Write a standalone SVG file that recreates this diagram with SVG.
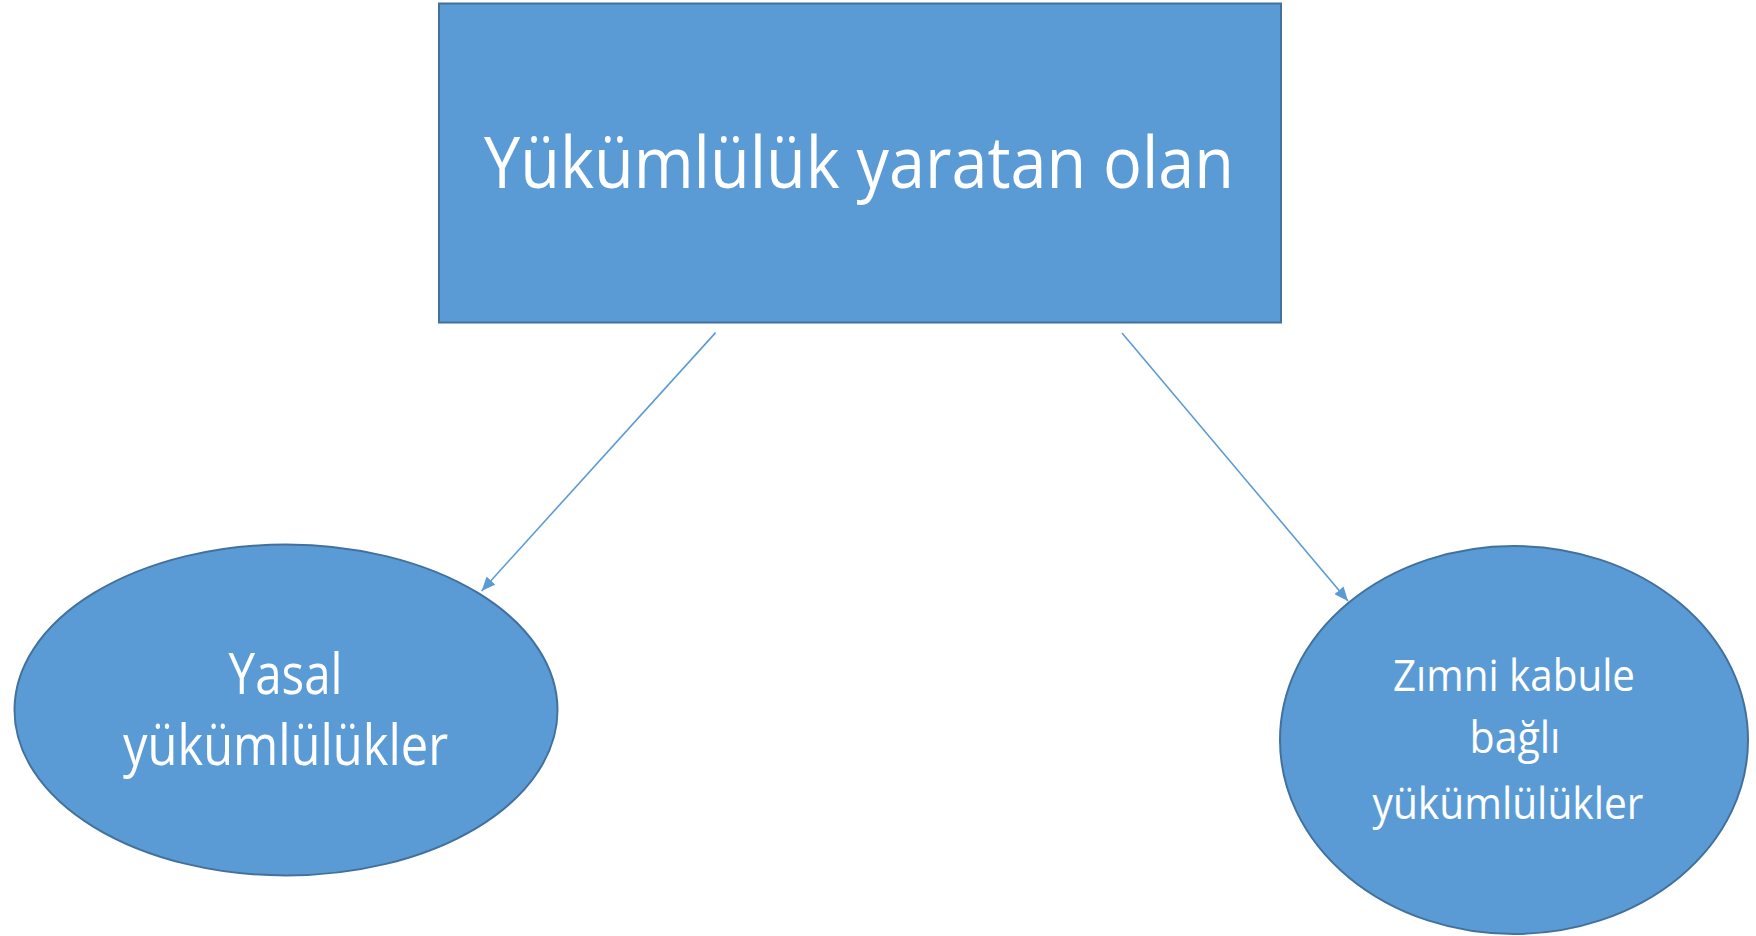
<svg xmlns="http://www.w3.org/2000/svg" width="1756" height="936" viewBox="0 0 1756 936">
<style>
.shape{fill:#5B9BD5;stroke:#41719C;stroke-width:2}
.t{fill:#FFFFFF;font-family:"Open Sans","Liberation Sans",sans-serif;text-anchor:middle}
.conn{stroke:#5B9BD5;stroke-width:1.6;fill:none}
</style>
<defs>
<marker id="arr" markerWidth="14" markerHeight="12" refX="14" refY="6" orient="auto" markerUnits="userSpaceOnUse" viewBox="0 0 14 12">
<path d="M0,0 L14,6 L0,12 Z" fill="#5B9BD5"/>
</marker>
</defs>
<rect width="1756" height="936" fill="#FFFFFF"/>
<g id="connectors">
<line class="conn" x1="715.6" y1="332.6" x2="481.6" y2="591" marker-end="url(#arr)"/>
<line class="conn" x1="1122" y1="333" x2="1348" y2="601" marker-end="url(#arr)"/>
</g>
<g id="top">
<rect class="shape" x="439" y="3.5" width="842" height="319"/>
<text class="t" x="859" y="188" font-size="72" textLength="750" lengthAdjust="spacingAndGlyphs">Yükümlülük yaratan olan</text>
</g>
<g id="left">
<ellipse class="shape" cx="286" cy="710" rx="271.5" ry="165.5"/>
<text class="t" x="285.6" y="694" font-size="57" textLength="114" lengthAdjust="spacingAndGlyphs">Yasal</text>
<text class="t" x="285.6" y="765" font-size="57" textLength="325" lengthAdjust="spacingAndGlyphs">yükümlülükler</text>
</g>
<g id="right">
<ellipse class="shape" cx="1514" cy="740" rx="234" ry="194"/>
<text class="t" x="1514" y="691" font-size="44" textLength="242" lengthAdjust="spacingAndGlyphs">Zımni kabule</text>
<text class="t" x="1515" y="753" font-size="44" textLength="91" lengthAdjust="spacingAndGlyphs">bağlı</text>
<text class="t" x="1508" y="819" font-size="44" textLength="271" lengthAdjust="spacingAndGlyphs">yükümlülükler</text>
</g>
</svg>
